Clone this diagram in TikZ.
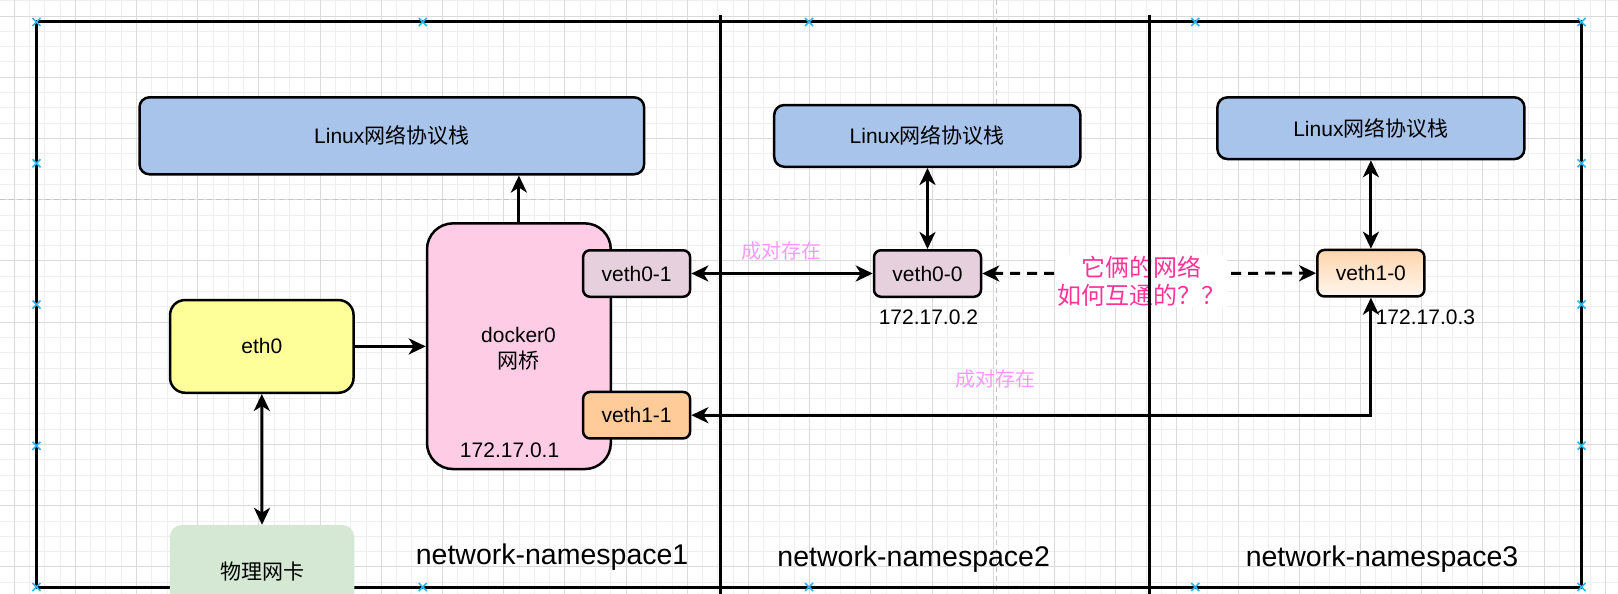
\documentclass[tikz,border=0pt]{standalone}
\usepackage{fontspec}
\setmainfont{Liberation Sans}
\newfontfamily\cjk{Noto Sans CJK SC}
\usetikzlibrary{arrows.meta,shadings}
\definecolor{lblue}{HTML}{A9C4EB}
\definecolor{lyellow}{HTML}{FFFF99}
\definecolor{lpink}{HTML}{FFCCE6}
\definecolor{lmauve}{HTML}{E6D0DE}
\definecolor{lorange}{HTML}{FFCC99}
\definecolor{lgreen}{HTML}{D5E8D4}
\definecolor{gtop}{HTML}{FFD5AD}
\definecolor{gbot}{HTML}{FFF6EE}
\definecolor{pairpink}{HTML}{FF99FF}
\definecolor{hotpink}{HTML}{FF3399}
\definecolor{gridmin}{HTML}{EFEFEF}
\definecolor{gridmaj}{HTML}{DADADA}
\definecolor{guide}{HTML}{C4C4C4}
\definecolor{mkblue}{HTML}{29B6F2}
\begin{document}
\begin{tikzpicture}[x=1pt,y=-1pt,
  txt/.style={font=\fontsize{21}{25.7}\selectfont, inner sep=0pt, align=center},
  box/.style={txt, draw=black, line width=2.5pt},
  linuxbox/.style={box, fill=lblue, rounded corners=10pt},
  vethbox/.style={box, rounded corners=7pt, minimum width=107pt, minimum height=46.5pt},
  conn/.style={line width=3pt, -{Stealth[length=17pt,width=16pt,inset=5pt]}},
  biconn/.style={line width=3pt, {Stealth[length=17pt,width=16pt,inset=5pt]}-{Stealth[length=17pt,width=16pt,inset=5pt]}},
  dashconn/.style={biconn, dash pattern=on 10pt off 7pt},
  nslabel/.style={font=\fontsize{28.5}{32}\selectfont, inner sep=0pt},
  pairlabel/.style={font=\fontsize{20}{24}\selectfont\cjk, text=pairpink, inner sep=0pt},
  gridminor/.style={draw=gridmin, line width=0.8pt},
  gridmajor/.style={draw=gridmaj, line width=0.9pt},
  guideline/.style={draw=guide, line width=1pt, dash pattern=on 5pt off 4pt},
  mk/.style={draw=mkblue, line width=1.6pt},
  divider/.style={line width=3pt}]
\useasboundingbox (0,0) rectangle (1618,594);
\fill[white] (0,0) rectangle (1618,594);
% grid
\foreach \i in {0,...,106} \draw[gridminor] ({-1.3+15.3*\i},0) -- ++(0,594);
\foreach \j in {0,...,39} \draw[gridminor] (0,{0.7+15.3*\j}) -- ++(1618,0);
\foreach \i in {0,...,26} \draw[gridmajor] ({14+61.2*\i},0) -- ++(0,594);
\foreach \j in {0,...,9} \draw[gridmajor] (0,{16+61.2*\j}) -- ++(1618,0);
% guides
\draw[guideline] (0,199.5) -- (1618,199.5);
\draw[guideline] (996.5,0) -- (996.5,594);
% outer frame
\draw[line width=3pt] (36.5,22) rectangle (1581.5,587);
% nodes
\node[linuxbox, minimum width=504.6pt, minimum height=77pt] (lin1) at (391.8,135.8) {Linux{\cjk 网络协议栈}};
\node[linuxbox, minimum width=306.2pt, minimum height=61.7pt] (lin2) at (927.3,135.9) {Linux{\cjk 网络协议栈}};
\node[linuxbox, minimum width=307pt, minimum height=61.7pt] (lin3) at (1370.9,128.2) {Linux{\cjk 网络协议栈}};
\node[box, fill=lyellow, rounded corners=15pt, minimum width=183.5pt, minimum height=92.7pt] (eth0) at (261.8,346.4) {eth0};
\node[txt, fill=lgreen, rounded corners=12pt, minimum width=184.5pt, minimum height=93pt] (nic) at (262,571.5) {\cjk 物理网卡};
\node[box, fill=lpink, rounded corners=26pt, minimum width=183.8pt, minimum height=245.7pt] (docker) at (518.9,346.2) {};
\node[txt] (dockerlbl) at (518.5,349) {docker0\\{\cjk 网桥}};
\node[txt] (ip1) at (509.6,450) {172.17.0.1};
\node[vethbox, fill=lmauve] (veth01) at (636.6,273.5) {veth0-1};
\node[vethbox, fill=lorange] (veth11) at (636.6,415.2) {veth1-1};
\node[vethbox, fill=lmauve] (veth00) at (927.5,273.5) {veth0-0};
\node[vethbox, top color=gtop, bottom color=gbot] (veth10) at (1370.9,273.2) {veth1-0};
\node[txt] (ip2) at (928.4,317.7) {172.17.0.2};
\node[txt] (ip3) at (1425.4,317.7) {172.17.0.3};
% connectors
\draw[conn] (docker.north) -- (docker.north |- lin1.south);
\draw[conn] (eth0.east) -- (eth0.east -| docker.west);
\draw[biconn] (eth0.south) -- (nic.north);
\draw[biconn] (veth01.east) -- (veth00.west);
\draw[biconn] (veth00.north) -- (veth00.north |- lin2.south);
\draw[biconn] (veth10.north) -- (veth10.north |- lin3.south);
\draw[biconn] (veth10.south) |- (veth11.east);
\draw[dashconn] (veth00.east) -- (veth10.west);
% labels
\node[pairlabel] (pair1) at (781,251) {成对存在};
\node[pairlabel] (pair2) at (995.7,379.3) {成对存在};
\node[font=\fontsize{24}{28.3}\selectfont\cjk, text=hotpink, fill=white, inner xsep=1.5pt, inner ysep=1pt, align=center] (q) at (1141.5,281) {它俩的网络\\如何互通的？？};
\node[nslabel] (ns1) at (552.1,556.7) {network-namespace1};
\node[nslabel] (ns2) at (913.7,559.3) {network-namespace2};
\node[nslabel] (ns3) at (1382,559.3) {network-namespace3};
% dividers
\draw[divider] (720.6,15) -- (720.6,594);
\draw[divider] (1149.3,15) -- (1149.3,594);
% selection markers
\foreach \x/\y in {36.5/22, 422.75/22, 809/22, 1195.25/22, 1581.5/22,
                   36.5/587, 422.75/587, 809/587, 1195.25/587, 1581.5/587,
                   36.5/163.25, 36.5/304.5, 36.5/445.75,
                   1581.5/163.25, 1581.5/304.5, 1581.5/445.75}
  \draw[mk] ({\x-4},{\y-4}) -- ({\x+4},{\y+4}) ({\x-4},{\y+4}) -- ({\x+4},{\y-4});
\end{tikzpicture}
\end{document}
